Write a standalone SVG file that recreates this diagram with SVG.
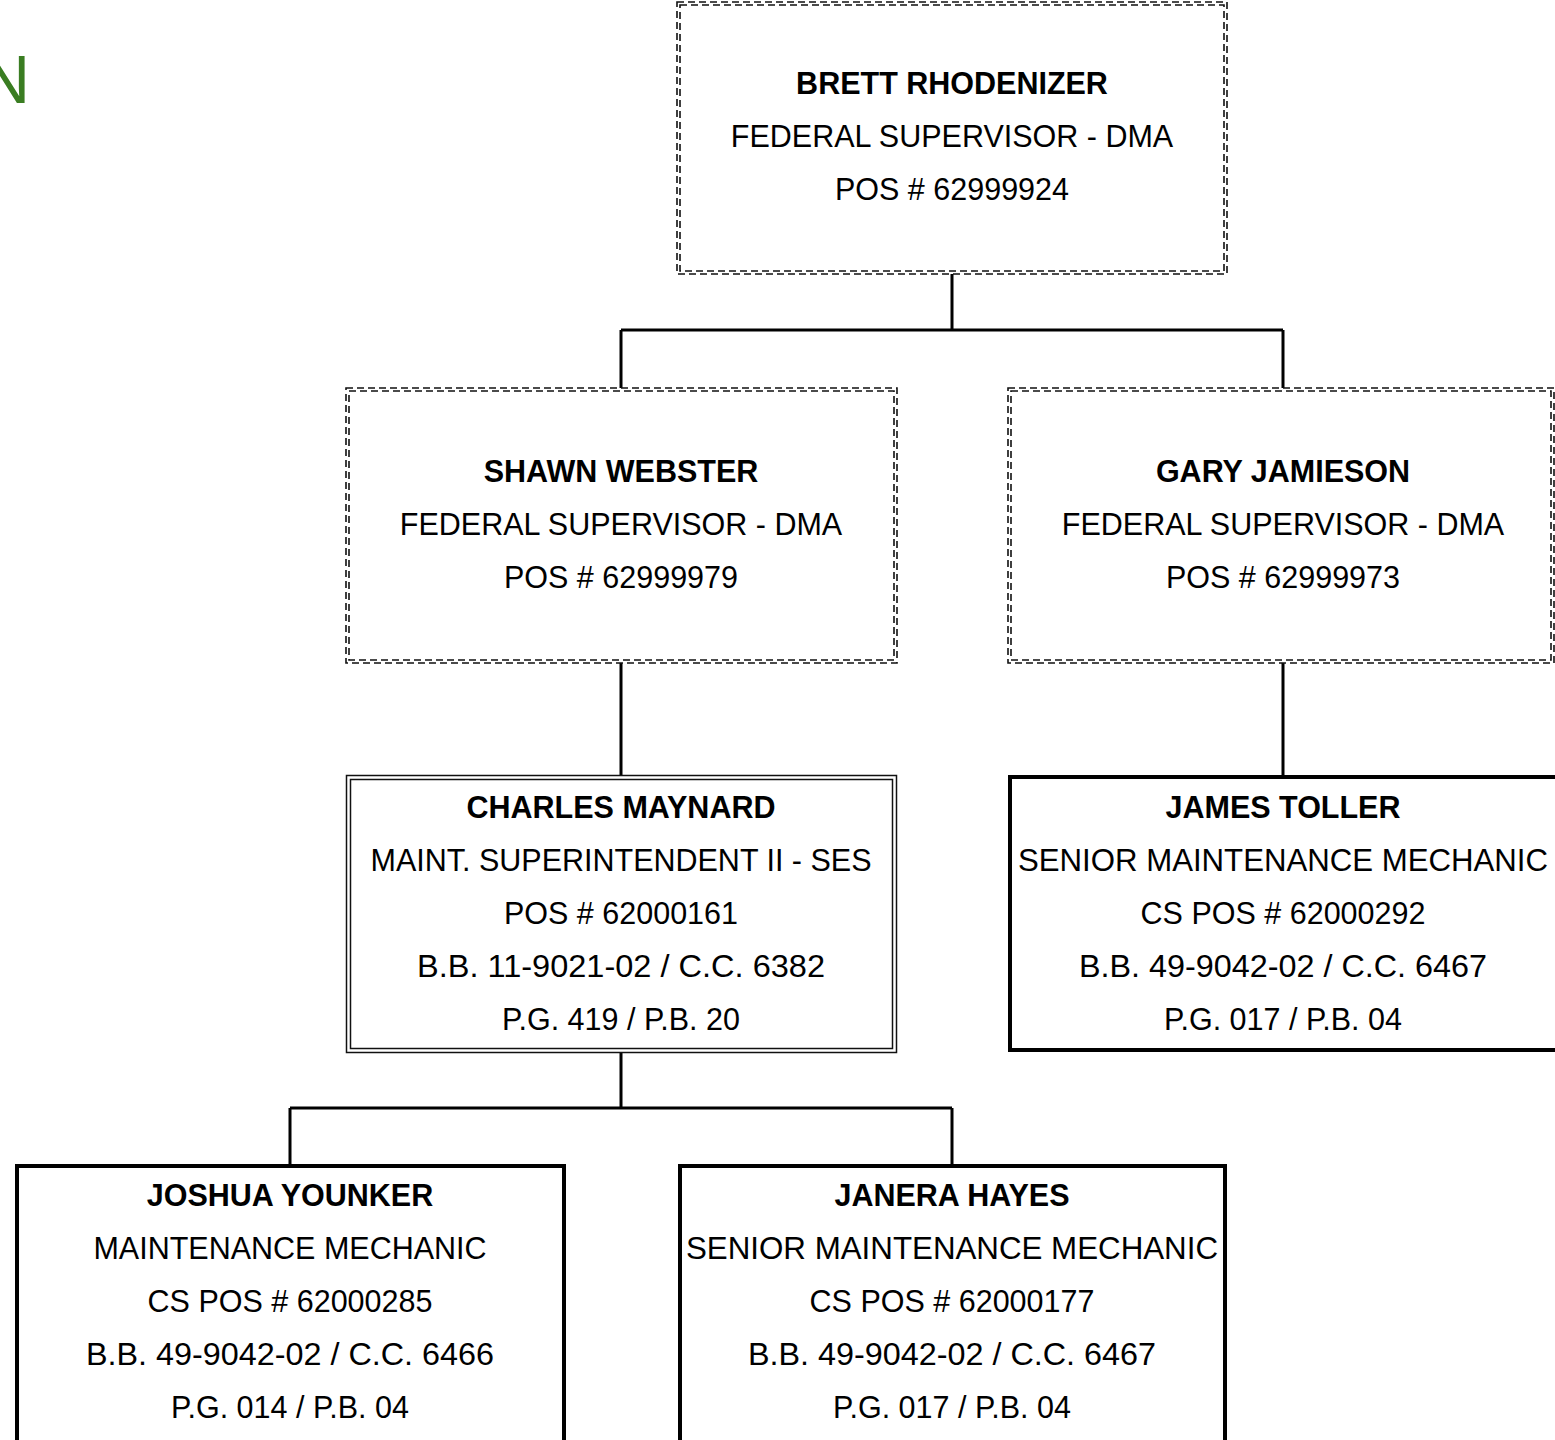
<svg xmlns="http://www.w3.org/2000/svg" width="1555" height="1440" viewBox="0 0 1555 1440">
<style>
.bg{fill:#fff}
.dash{fill:none;stroke:#111;stroke-width:1.6;stroke-dasharray:7 4}
.dbl{fill:none;stroke:#111;stroke-width:1.5}
.thick{fill:none;stroke:#000;stroke-width:4}
.conn{fill:none;stroke:#000;stroke-width:3}
text{font-family:"Liberation Sans",Arial,sans-serif;font-size:30.5px;fill:#000;text-anchor:middle}
.b{font-weight:bold}
</style>
<rect class="bg" x="0" y="0" width="1555" height="1440"/>
<text x="30" y="103" style="font-size:68px;fill:#3a7d22;text-anchor:end">N</text>
<g id="connectors">
<path class="conn" d="M952 274V330M621 330H1283M621 330V388M1283 330V388M621 663V775M1283 663V775M621 1052V1108M290 1108H952M290 1108V1164M952 1108V1164"/>
</g>
<g id="brett">
<rect class="dash" x="677" y="2" width="550" height="272"/>
<rect class="dash" x="680" y="5" width="544" height="266"/>
<text class="b" x="952" y="94">BRETT RHODENIZER</text>
<text x="952" y="147">FEDERAL SUPERVISOR - DMA</text>
<text x="952" y="200">POS # 62999924</text>
</g>
<g id="shawn">
<rect class="dash" x="346" y="388" width="551" height="275"/>
<rect class="dash" x="349" y="391" width="545" height="269"/>
<text class="b" x="621" y="482">SHAWN WEBSTER</text>
<text x="621" y="535">FEDERAL SUPERVISOR - DMA</text>
<text x="621" y="588">POS # 62999979</text>
</g>
<g id="gary">
<rect class="dash" x="1008" y="388" width="546" height="275"/>
<rect class="dash" x="1011" y="391" width="540" height="269"/>
<text class="b" x="1283" y="482">GARY JAMIESON</text>
<text x="1283" y="535">FEDERAL SUPERVISOR - DMA</text>
<text x="1283" y="588">POS # 62999973</text>
</g>
<g id="charles">
<rect class="dbl" x="346.5" y="775.5" width="550" height="277"/>
<rect class="dbl" x="350.5" y="779.5" width="542" height="269"/>
<text class="b" x="621" y="818">CHARLES MAYNARD</text>
<text x="621" y="871">MAINT. SUPERINTENDENT II - SES</text>
<text x="621" y="924">POS # 62000161</text>
<text x="621" y="977" textLength="408" lengthAdjust="spacingAndGlyphs">B.B. 11-9021-02 / C.C. 6382</text>
<text x="621" y="1030">P.G. 419 / P.B. 20</text>
</g>
<g id="james">
<rect class="thick" x="1010" y="777" width="550" height="273"/>
<text class="b" x="1283" y="818">JAMES TOLLER</text>
<text x="1283" y="871" textLength="530" lengthAdjust="spacingAndGlyphs">SENIOR MAINTENANCE MECHANIC</text>
<text x="1283" y="924">CS POS # 62000292</text>
<text x="1283" y="977" textLength="408" lengthAdjust="spacingAndGlyphs">B.B. 49-9042-02 / C.C. 6467</text>
<text x="1283" y="1030">P.G. 017 / P.B. 04</text>
</g>
<g id="joshua">
<rect class="thick" x="17" y="1166" width="547" height="280"/>
<text class="b" x="290" y="1206">JOSHUA YOUNKER</text>
<text x="290" y="1259">MAINTENANCE MECHANIC</text>
<text x="290" y="1312">CS POS # 62000285</text>
<text x="290" y="1365" textLength="408" lengthAdjust="spacingAndGlyphs">B.B. 49-9042-02 / C.C. 6466</text>
<text x="290" y="1418">P.G. 014 / P.B. 04</text>
</g>
<g id="janera">
<rect class="thick" x="680" y="1166" width="545" height="280"/>
<text class="b" x="952" y="1206">JANERA HAYES</text>
<text x="952" y="1259" textLength="532" lengthAdjust="spacingAndGlyphs">SENIOR MAINTENANCE MECHANIC</text>
<text x="952" y="1312">CS POS # 62000177</text>
<text x="952" y="1365" textLength="408" lengthAdjust="spacingAndGlyphs">B.B. 49-9042-02 / C.C. 6467</text>
<text x="952" y="1418">P.G. 017 / P.B. 04</text>
</g>
</svg>
